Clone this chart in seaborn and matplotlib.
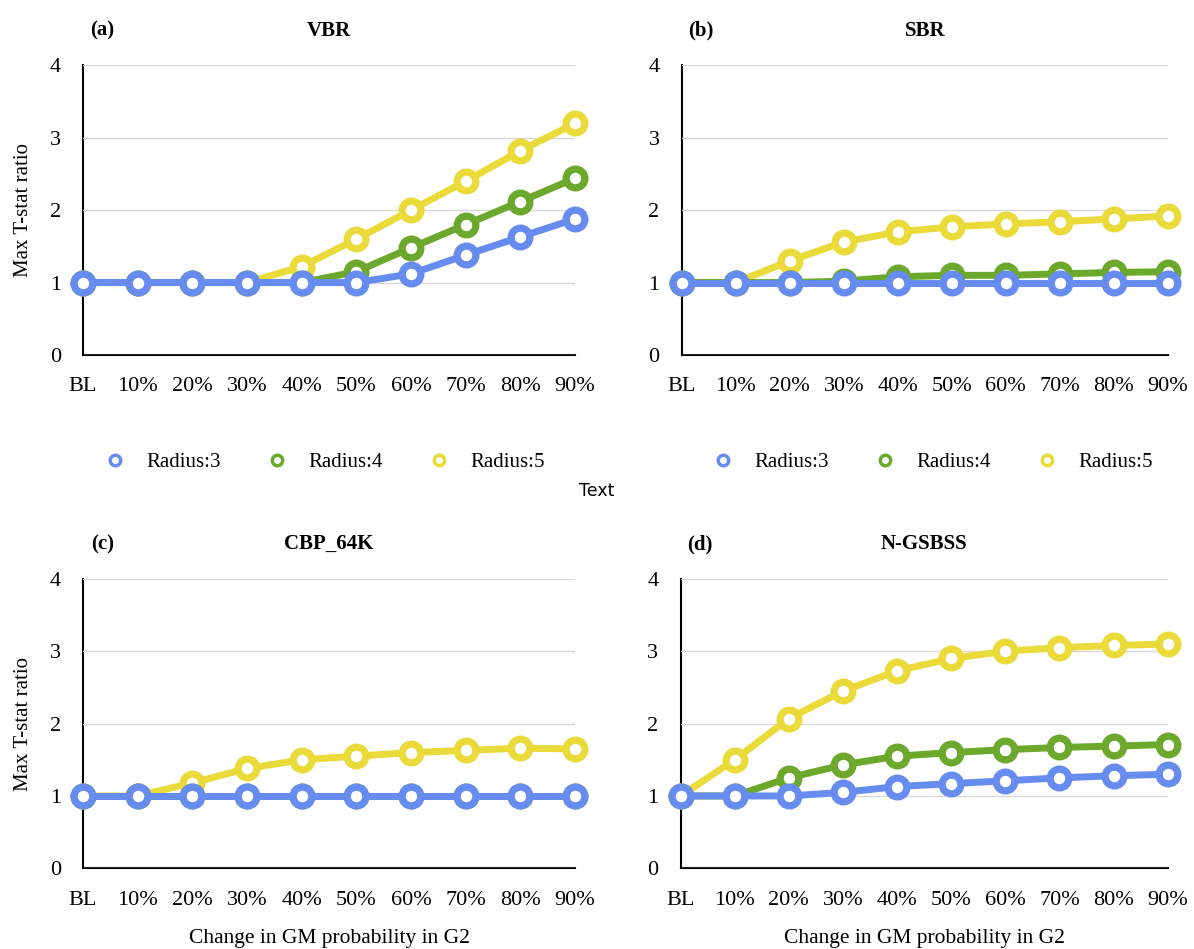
import numpy as np
import pandas as pd
import seaborn as sns
import matplotlib.pyplot as plt
from matplotlib.lines import Line2D

categorias = ['BL', '10%', '20%', '30%', '40%', '50%', '60%', '70%', '80%', '90%']
radios = ['Radius:3', 'Radius:4', 'Radius:5']
colores = ['#668cf0', '#6ba82c', '#eada3a']

vbr_r3 = [1, 1, 1, 1, 1, 1, 1.12, 1.38, 1.63, 1.88]
vbr_r4 = [1, 1, 1, 1, 1, 1.15, 1.48, 1.80, 2.12, 2.44]
vbr_r5 = [1, 1, 1, 1, 1.22, 1.60, 2.00, 2.40, 2.82, 3.20]

sbr_r3 = [1, 1, 1, 1, 1, 1, 1, 1, 1, 1]
sbr_r4 = [1, 1, 1, 1.02, 1.08, 1.10, 1.10, 1.12, 1.14, 1.15]
sbr_r5 = [1, 1, 1.30, 1.56, 1.70, 1.77, 1.81, 1.84, 1.88, 1.92]

cbp_r3 = [1, 1, 1, 1, 1, 1, 1, 1, 1, 1]
cbp_r4 = [1, 1, 1, 1, 1, 1, 1, 1, 1, 1]
cbp_r5 = [1, 1, 1.18, 1.38, 1.50, 1.55, 1.60, 1.63, 1.66, 1.65]

ngs_r3 = [1, 1, 1, 1.05, 1.13, 1.17, 1.21, 1.25, 1.28, 1.30]
ngs_r4 = [1, 1, 1.25, 1.43, 1.55, 1.60, 1.64, 1.67, 1.69, 1.71]
ngs_r5 = [1, 1.50, 2.07, 2.45, 2.73, 2.90, 3.00, 3.05, 3.08, 3.10]

paneles = [
    ('(a)', 'VBR', [vbr_r3, vbr_r4, vbr_r5]),
    ('(b)', 'SBR', [sbr_r3, sbr_r4, sbr_r5]),
    ('(c)', 'CBP_64K', [cbp_r3, cbp_r4, cbp_r5]),
    ('(d)', 'N-GSBSS', [ngs_r3, ngs_r4, ngs_r5]),
]

sns.set_style('white')
plt.rcParams['font.family'] = ['Liberation Serif', 'DejaVu Serif']
plt.rcParams['text.color'] = 'black'
plt.rcParams['axes.labelcolor'] = 'black'
plt.rcParams['xtick.color'] = 'black'
plt.rcParams['ytick.color'] = 'black'

fig = plt.figure(figsize=(11.94, 9.49), dpi=100)

# posiciones de los ejes (izq, abajo, ancho, alto)
posiciones = [
    [0.0695, 0.626, 0.412, 0.305],
    [0.571, 0.626, 0.407, 0.305],
    [0.0695, 0.085, 0.412, 0.305],
    [0.570, 0.085, 0.408, 0.305],
]
anclas_leyenda = [0.48, 0.505]

x = np.arange(len(categorias))

for i, (letra, titulo, series) in enumerate(paneles):
    ax = fig.add_axes(posiciones[i])
    # dibujar en orden inverso para que Radius:3 quede encima
    for serie, radio, color in reversed(list(zip(series, radios, colores))):
        df = pd.DataFrame({'x': x, 'y': serie})
        sns.lineplot(data=df, x='x', y='y', ax=ax, color=color, linewidth=5,
                     marker='o', markersize=13.5, markeredgewidth=5.2,
                     markerfacecolor='white', markeredgecolor=color,
                     clip_on=False)
    ax.set_xlim(0, 9)
    ax.set_ylim(0, 4)
    ax.set_yticks([0, 1, 2, 3, 4])
    ax.set_xticks(x)
    ax.set_xticklabels(categorias)
    ax.yaxis.grid(True, color='#d9d9d9', linewidth=1)
    ax.set_axisbelow(True)
    for lado in ['top', 'right']:
        ax.spines[lado].set_visible(False)
    for lado in ['left', 'bottom']:
        ax.spines[lado].set_color('black')
        ax.spines[lado].set_linewidth(1.5)
        ax.spines[lado].set_zorder(0.5)
    ax.tick_params(axis='x', direction='in', length=5, width=1.2, labelsize=16, pad=16)
    ax.tick_params(axis='y', length=0, labelsize=16, pad=16)
    ax.set_xlabel('')
    if i in (0, 2):
        ax.set_ylabel('Max T-stat ratio', fontsize=15, labelpad=12)
    else:
        ax.set_ylabel('')
    if i in (2, 3):
        ax.set_xlabel('Change in GM probability in G2', fontsize=15.5, labelpad=14)
    ax.text(0.04, 1.12, letra, transform=ax.transAxes, fontsize=15, fontweight='bold', ha='center', va='center')
    ax.text(0.5, 1.12, titulo, transform=ax.transAxes, fontsize=15, fontweight='bold', ha='center', va='center')

    if i in (0, 1):
        handles = [Line2D([], [], linestyle='none', marker='o', markersize=7.5,
                          markeredgewidth=2.5, markerfacecolor='white', markeredgecolor=c)
                   for c in colores]
        ax.legend(handles, radios, loc='center', bbox_to_anchor=(anclas_leyenda[i], -0.37),
                  ncol=3, frameon=False, fontsize=15, columnspacing=1.7, handletextpad=0.5)

fig.text(0.5, 0.483, 'Text', fontsize=12.5, family='DejaVu Sans', ha='center', va='center')

plt.savefig('out.png', dpi=100)
